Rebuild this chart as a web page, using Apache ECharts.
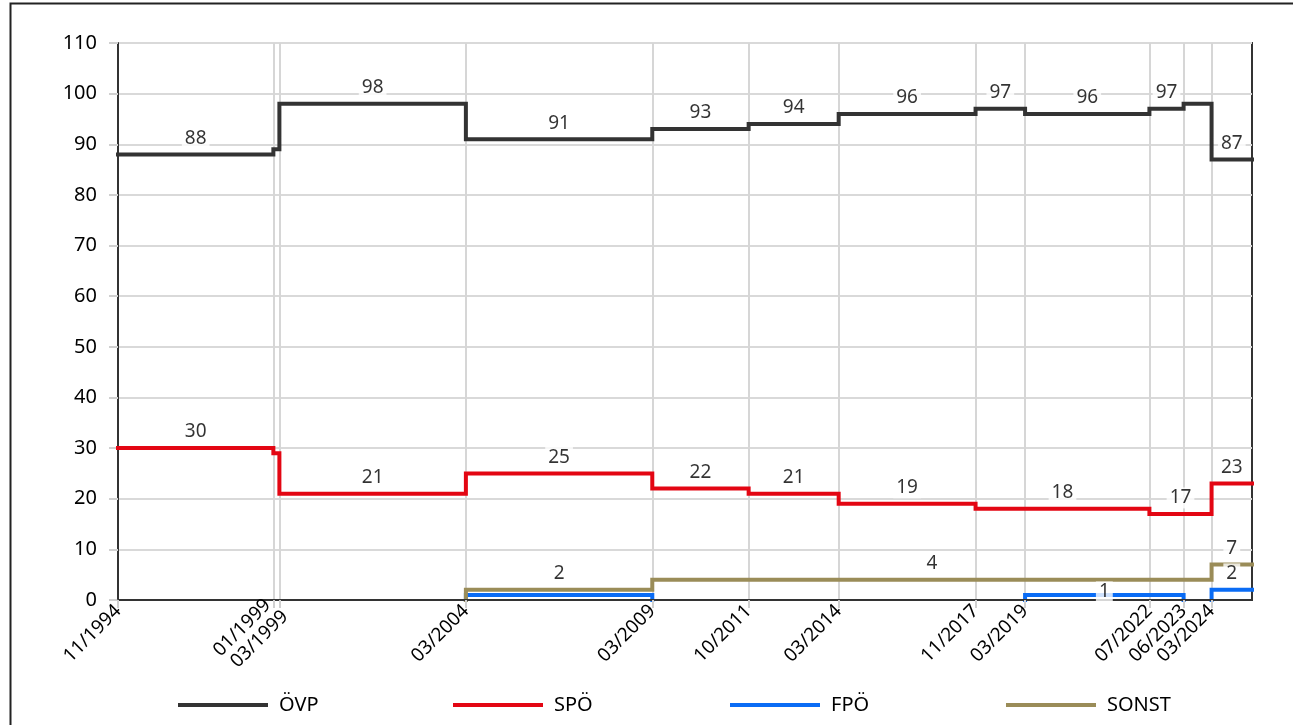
<!DOCTYPE html>
<html>
<head>
<meta charset="utf-8">
<script src="https://cdn.jsdelivr.net/npm/echarts@6/dist/echarts.min.js"></script>
<style>
  html, body { margin: 0; padding: 0; background: #fff; }
  #chart { width: 1293px; height: 725px; }
</style>
</head>
<body>
<div id="chart"></div>
<script>
// Stichtage (Wechsel) und Sitzverteilung je Partei
const dates = ['1994-11-01', '1999-01-01', '1999-03-01', '2004-03-01', '2009-03-01', '2011-10-01',
  '2014-03-01', '2017-11-01', '2019-03-01', '2022-07-01', '2023-06-01', '2024-03-01']
const endDate = '2025-04-01'

const oevp  = [88, 89, 98, 91, 93, 94, 96, 97, 96, 97, 98, 87]
const spoe  = [30, 29, 21, 25, 22, 21, 19, 18, 18, 17, 17, 23]
const fpoe  = [null, null, null, 1, 0, 0, 0, 0, 1, 1, 0, 2]
const sonst = [null, null, null, 2, 4, 4, 4, 4, 4, 4, 4, 7]

// welche Abschnitte (nach Startindex) eine Zahl bekommen
const oevpLabels  = [1, 0, 1, 1, 1, 1, 1, 1, 1, 1, 0, 1]
const spoeLabels  = [1, 0, 1, 1, 1, 1, 1, 1, 1, 1, 1, 1]
const fpoeLabels  = [0, 0, 0, 0, 0, 0, 0, 0, 1, 1, 0, 1]
const sonstLabels = [0, 0, 0, 1, 1, 1, 1, 1, 1, 1, 1, 1]

const yMin = 0, yMax = 110, yStep = 10

const parties = [
  { name: 'ÖVP',   vals: oevp,  lab: oevpLabels,  color: '#333333' },
  { name: 'SPÖ',   vals: spoe,  lab: spoeLabels,  color: '#e30613' },
  { name: 'FPÖ',   vals: fpoe,  lab: fpoeLabels,  color: '#0a6cf5' },
  { name: 'SONST', vals: sonst, lab: sonstLabels, color: '#9a8c58' }
]

const t = d => Date.UTC(+d.slice(0, 4), +d.slice(5, 7) - 1, +d.slice(8, 10))
const pad = n => (n < 10 ? '0' : '') + n
const ticks = dates.map(t)
const DAY = 864e5

// Datum als MM/JJJJ; sehr nahe Stichtage werden auseinandergeschoben
function fmtDate(v) {
  const d = new Date(v)
  const s = pad(d.getUTCMonth() + 1) + '/' + d.getUTCFullYear()
  const k = ticks.indexOf(v)
  if (k >= 0 && k < ticks.length - 1 && ticks[k + 1] - v < 90 * DAY) return '{u|' + s + '}'
  if (k > 0 && v - ticks[k - 1] < 90 * DAY) return '{d|' + s + '}'
  return s
}

function stepData(vals) {
  const out = []
  vals.forEach((v, i) => {
    const x = t(dates[i])
    const prev = i > 0 ? vals[i - 1] : null
    if (!v) {
      if (prev) out.push([x, 0])
      out.push([x, '-'])
    } else {
      if (i > 0 && !prev) out.push([x, 0])
      out.push([x, v])
    }
  })
  const last = vals[vals.length - 1]
  if (last) out.push([t(endDate), last])
  return out
}

// Zahl in der Mitte jedes Abschnitts mit gleichem Wert
function labelData(vals, lab, name) {
  const out = []
  let i = 0
  while (i < vals.length) {
    let j = i + 1
    while (j < vals.length && vals[j] === vals[i]) j++
    if (vals[i] && lab[i]) {
      const a = t(dates[i]), b = t(j < vals.length ? dates[j] : endDate)
      const item = { value: [(a + b) / 2, vals[i]] }
      // FPÖ-Zahl würde die SONST-Linie treffen: direkt auf die eigene Linie setzen
      const gap = sonst[i] ? sonst[i] - vals[i] : 0
      if (name === 'FPÖ' && gap > 1 && gap < 5) item.label = { offset: [0, 13] }
      out.push(item)
    }
    i = j
  }
  return out
}

const chart = echarts.init(document.getElementById('chart'))
const font = '"Noto Sans", sans-serif'

const series = []
parties.forEach(p => {
  series.push({
    name: p.name, type: 'line', step: 'end', data: stepData(p.vals),
    showSymbol: false, connectNulls: false, z: 3,
    lineStyle: { color: p.color, width: 4, cap: 'square', join: 'miter' },
    itemStyle: { color: p.color }
  })
})
parties.forEach(p => {
  series.push({
    name: p.name + '_lab', type: 'scatter', data: labelData(p.vals, p.lab, p.name),
    symbolSize: 1, itemStyle: { color: 'rgba(0,0,0,0)' }, z: 5,
    label: {
      show: true, position: 'top', distance: 5,
      formatter: q => q.value[1],
      fontFamily: font, fontSize: 19, color: '#000',
      backgroundColor: '#fff', padding: [0, 3, 0, 3], lineHeight: 21
    }
  })
})
// vertikale Hilfslinien an den Stichtagen
series.push({
  name: 'grid', type: 'line', data: [], z: 1, silent: true,
  markLine: {
    silent: true, symbol: 'none', z: 1, animation: false,
    label: { show: false },
    lineStyle: { color: '#d6d6d6', width: 2, type: 'solid' },
    data: dates.slice(1).map(d => ({ xAxis: t(d) }))
  }
})

const legendLeft = [173, 448, 725, 1001]

chart.setOption({
  animation: false,
  textStyle: { fontFamily: font },
  graphic: [{
    type: 'rect', left: 8, top: 1, silent: true,
    shape: { width: 1300, height: 800 },
    style: { fill: 'none', stroke: '#222', lineWidth: 2 }
  }],
  grid: {
    left: 118, right: 41, top: 43, bottom: 125,
    show: true, borderColor: '#333', borderWidth: 2, backgroundColor: 'transparent'
  },
  legend: parties.map((p, i) => ({
    data: [p.name], left: legendLeft[i], top: 690,
    icon: 'rect', itemWidth: 90, itemHeight: 4,
    textStyle: { fontFamily: font, fontSize: 20, color: '#000', padding: [0, 0, 0, 6] },
    selectedMode: false
  })),
  xAxis: {
    type: 'value', min: t(dates[0]), max: t(endDate), z: 4, scale: true,
    axisLine: { show: true, lineStyle: { color: '#333', width: 2 } },
    axisTick: { show: true, customValues: ticks, length: 8, lineStyle: { color: '#d0d0d0', width: 2 } },
    axisLabel: {
      show: true, customValues: ticks, rotate: 45, margin: 8,
      fontFamily: font, fontSize: 19, color: '#000',
      formatter: fmtDate,
      rich: {
        u: { fontFamily: font, fontSize: 19, color: '#000', padding: [0, 0, 16, 0] },
        d: { fontFamily: font, fontSize: 19, color: '#000', padding: [16, 0, 0, 0] }
      }
    },
    splitLine: { show: false }
  },
  yAxis: {
    type: 'value', min: yMin, max: yMax, interval: yStep, z: 0,
    axisLine: { show: true, lineStyle: { color: '#333', width: 2 } },
    axisTick: { show: true, length: 9, lineStyle: { color: '#d0d0d0', width: 2 } },
    axisLabel: { margin: 21, fontFamily: font, fontSize: 20, color: '#000' },
    splitLine: { show: true, lineStyle: { color: '#d9d9d9', width: 2 } }
  },
  series
})
</script>
</body>
</html>
